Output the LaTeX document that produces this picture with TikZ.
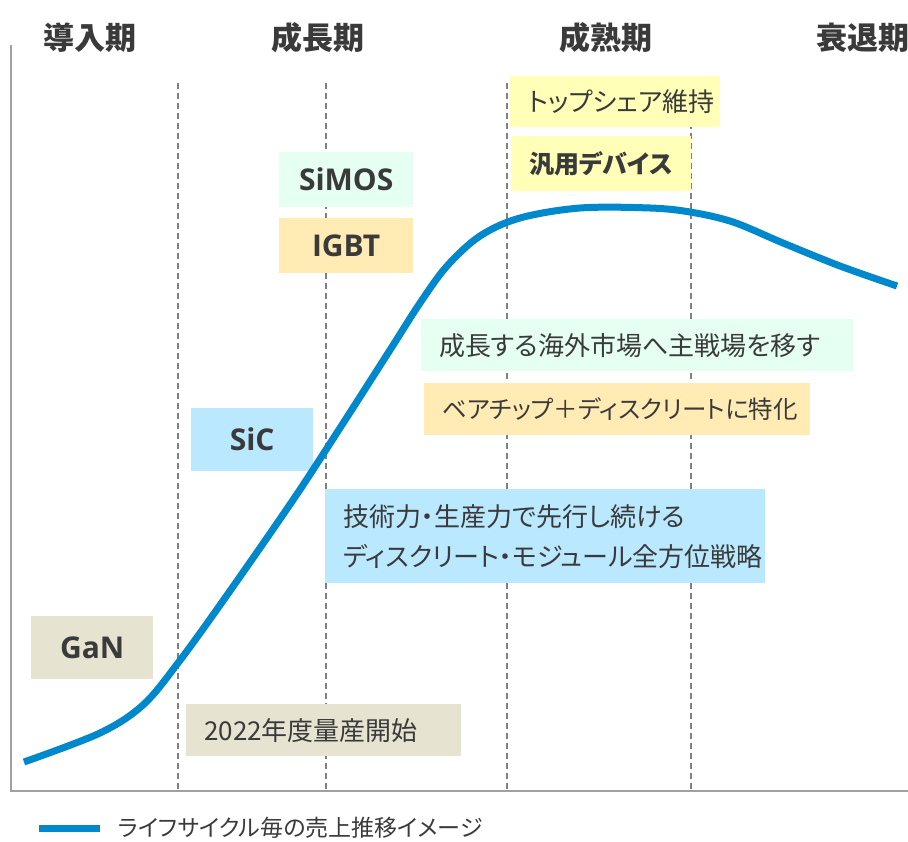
\documentclass[tikz,border=0pt]{standalone}
\usepackage{fontspec}
\setmainfont{Noto Sans CJK JP}[RawFeature={+palt}]
\newfontfamily\labelfont{Open Sans}
\usetikzlibrary{positioning}

\definecolor{salesblue}{HTML}{0088CC}
\definecolor{textgray}{HTML}{3A3A3A}
\definecolor{dashgray}{HTML}{808080}
\definecolor{axisgray}{HTML}{A0A0A0}
\definecolor{fillyellow}{HTML}{FFFFB7}
\definecolor{fillmint}{HTML}{E5FFF2}
\definecolor{fillorange}{HTML}{FFEBB3}
\definecolor{fillblue}{HTML}{B9E8FF}
\definecolor{fillbeige}{HTML}{E6E3D1}

\begin{document}
\begin{tikzpicture}[
    x=1pt, y=-1pt,
    header/.style={
        inner sep=0pt, text=textgray, font=\bfseries\fontsize{31}{36}\selectfont
    },
    note/.style 2 args={
        anchor=north west, inner xsep=18pt, inner ysep=0pt, align=left, text=textgray,
        text width=#1, minimum height=#2, font=\fontsize{26}{40}\selectfont
    },
    chip/.style 2 args={
        anchor=north west, inner sep=0pt, align=center, text=textgray,
        minimum width=#1, minimum height=#2, font=\labelfont\bfseries\fontsize{30}{36}\selectfont
    },
    phase/.style={draw=dashgray, line width=1.3pt, dash pattern=on 6pt off 4pt},
    axis/.style={draw=axisgray, line width=1.5pt},
    sales/.style={draw=salesblue, line width=7pt},
    legendtext/.style={inner sep=0pt, text=textgray, font=\fontsize{23}{26}\selectfont}
]
    \useasboundingbox (0,0) rectangle (908,842);

    % --- 区切り線と軸 ---
    \foreach \x in {178,326,507,691}
        \draw [phase] (\x,83) -- (\x,791);
    \draw [axis] (11,45) -- (11,791) -- (908,791);

    % --- 期の見出し ---
    \node [header] (intro) at (90,38) {導入期};
    \node [header] (growth) at (318,38) {成長期};
    \node [header] (mature) at (606,38) {成熟期};
    \node [header, anchor=west] (decline) at (816,38) {衰退期};

    % --- デバイス ---
    \node [chip={134pt}{55pt}, fill=fillmint] (simos) at (279,152) {SiMOS};
    \node [chip={134pt}{55pt}, fill=fillorange] (igbt) at (279,218) {IGBT};
    \node [chip={122pt}{63pt}, fill=fillblue] (sic) at (191,408) {SiC};
    \node [chip={122pt}{63pt}, fill=fillbeige] (gan) at (31,616) {GaN};

    % --- 戦略 ---
    \node [note={174pt}{51pt}, fill=fillyellow] (topshare) at (510,76) {トップシェア維持};
    \node [note={144pt}{55pt}, fill=fillyellow, font=\bfseries\fontsize{25}{40}\selectfont] (general) at (511,136) {汎用デバイス};
    \node [note={396pt}{52pt}, fill=fillmint] (overseas) at (421,319) {成長する海外市場へ主戦場を移す};
    \node [note={350pt}{52pt}, fill=fillorange, font=\fontsize{24.5}{40}\selectfont] (barechip) at (424,383) {ベアチップ＋ディスクリートに特化};
    \node [note={404pt}{94pt}, fill=fillblue] (lead) at (325,489) {技術力・生産力で先行し続ける\\ディスクリート・モジュール全方位戦略};
    \node [note={239pt}{52pt}, fill=fillbeige] (mass) at (186,704) {2022年度量産開始};

    % --- 売上推移 ---
    \draw [sales] plot [smooth, tension=0.55] coordinates {
        (24,762) (100,733) (143,705) (178,663) (225,598) (293,500) (340,428)
        (390,350) (420,303) (447,266) (480,236) (520,218) (580,208) (650,208)
        (690,212) (733,222) (783,243) (840,266) (897,286)};

    % --- 凡例 ---
    \draw [sales] (39,828) coordinate (legendstart) -- (100,828) coordinate (legendend);
    \node [legendtext, right=18pt of legendend] (legend) {ライフサイクル毎の売上推移イメージ};

\end{tikzpicture}
\end{document}
